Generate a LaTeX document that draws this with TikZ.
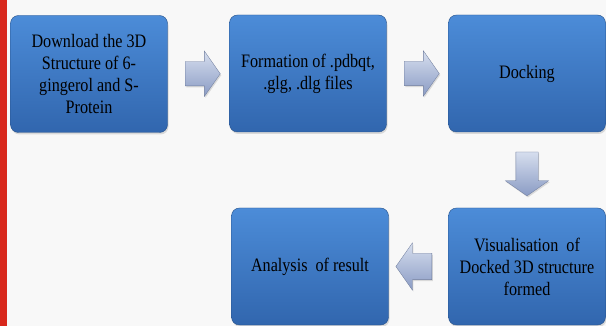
\documentclass[tikz,border=0pt]{standalone}
\usepackage{fontspec}
\setmainfont{Liberation Serif}
\newfontfamily\stagefont{Liberation Serif}[FakeStretch=0.85]
\usetikzlibrary{positioning,shapes.arrows,shadows,calc}
\definecolor{boxtop}{HTML}{4C8CD8}
\definecolor{boxbot}{HTML}{3166AE}
\definecolor{arrtop}{HTML}{D6DEEE}
\definecolor{arrbot}{HTML}{8A9BC4}
\definecolor{bgray}{HTML}{F8F8F8}
\definecolor{sidered}{HTML}{D8281C}

\begin{document}
\begin{tikzpicture}[
  x=1pt, y=1pt,
  stage/.style={rounded corners=8pt, draw=boxbot!80!black, line width=0.4pt, align=center,
                top color=boxtop, bottom color=boxbot, minimum width=157pt, minimum height=117pt,
                inner sep=2pt, font=\stagefont\fontsize{19}{22}\selectfont,
                drop shadow={shadow xshift=1pt, shadow yshift=-2pt, opacity=0.25}},
  flow/.style={single arrow, draw=arrbot!80!black, line width=0.3pt, top color=arrtop, bottom color=arrbot,
               minimum height=35pt, inner xsep=0pt, inner ysep=12pt,
               single arrow head extend=10.5pt, single arrow tip angle=110,
               drop shadow={shadow xshift=1pt, shadow yshift=-1.5pt, opacity=0.25}},
]
% ---- page background and left red rule ----
\fill[bgray] (0,0) rectangle (606,-326);
\fill[sidered] (0,0) rectangle (7,-326);
\useasboundingbox (0,0) rectangle (606,-326);

% ---- top row ----
\node[stage] (download) at (89,-74)   {Download\ the\ 3D\\Structure\ of\ 6-\\gingerol\ and\ S-\\Protein};
\node[stage] (formation) at (308,-73.5) {Formation\ of\ .pdbqt,\\.glg,\ .dlg files};
\node[stage] (docking) at (527,-73.5)   {Docking};

% ---- bottom row ----
\node[stage] (visual) at (527,-266.5)   {Visualisation\ \ of\\Docked 3D structure\\formed};
\node[stage] (analysis) at (310,-266.5) {Analysis\ \ of result};

% ---- block arrows between stages ----
\node[flow] (a1) at ($(download.east)!0.5!(formation.west)$) {};
\node[flow] (a2) at ($(formation.east)!0.5!(docking.west)$) {};
\node[flow, rotate=-90, minimum height=44pt, inner ysep=11pt] (a3)
      at ($(docking.south)!0.5!(visual.north)$) {};
\node[flow, shape border rotate=180, minimum height=36pt, inner ysep=13pt] (a4)
      at ($(visual.west)!0.5!(analysis.east)$) {};
\end{tikzpicture}
\end{document}
